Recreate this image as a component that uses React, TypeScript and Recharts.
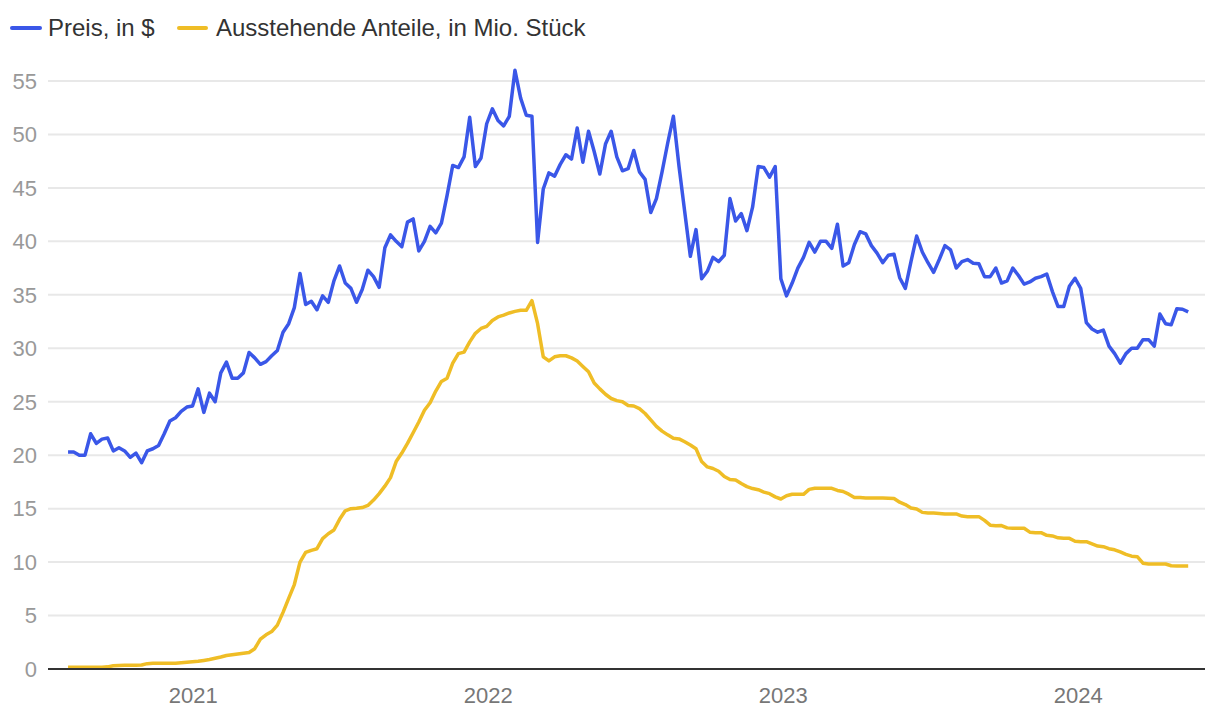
import React from "react";
import { LineChart, Line, XAxis, YAxis, CartesianGrid } from "recharts";

// Weekly observations, first week starting 2020-07-30
const firstWeek = "2020-07-30";

const priceValues = [
  20.3, 20.3, 20.0, 20.0, 22.0, 21.1, 21.5, 21.6, 20.4, 20.7,
  20.4, 19.8, 20.2, 19.3, 20.4, 20.6, 20.9, 22.0, 23.2, 23.5,
  24.1, 24.5, 24.6, 26.2, 24.0, 25.8, 25.0, 27.7, 28.7, 27.2,
  27.2, 27.7, 29.6, 29.1, 28.5, 28.75, 29.3, 29.8, 31.5, 32.3,
  33.8, 37.0, 34.1, 34.4, 33.6, 34.9, 34.3, 36.3, 37.7, 36.1,
  35.6, 34.3, 35.5, 37.3, 36.7, 35.7, 39.4, 40.6, 40.0, 39.5,
  41.8, 42.1, 39.1, 40.0, 41.4, 40.8, 41.7, 44.3, 47.1, 46.9,
  47.9, 51.6, 47.0, 47.8, 51.0, 52.4, 51.3, 50.8, 51.7, 56.0,
  53.4, 51.8, 51.7, 39.9, 44.9, 46.4, 46.1, 47.2, 48.1, 47.7,
  50.6, 47.4, 50.3, 48.4, 46.3, 49.1, 50.3, 47.9, 46.6, 46.8,
  48.5, 46.5, 45.8, 42.7, 44.0, 46.5, 49.2, 51.7, 47.0, 42.8,
  38.6, 41.1, 36.5, 37.2, 38.5, 38.1, 38.7, 44.0, 41.9, 42.6,
  41.0, 43.2, 47.0, 46.9, 46.0, 47.0, 36.5, 34.9, 36.1, 37.5,
  38.5, 39.9, 39.0, 40.0, 40.0, 39.35, 41.6, 37.7, 38.0, 39.7,
  40.9, 40.7, 39.6, 38.9, 38.0, 38.7, 38.8, 36.6, 35.6, 38.1,
  40.5, 39.0, 38.0, 37.1, 38.3, 39.6, 39.2, 37.5, 38.1, 38.3,
  37.95, 37.9, 36.7, 36.7, 37.5, 36.1, 36.3, 37.5, 36.8, 36.0,
  36.2, 36.55, 36.7, 36.95, 35.3, 33.9, 33.9, 35.8, 36.55, 35.6,
  32.4, 31.8, 31.5, 31.7, 30.2, 29.5, 28.6, 29.5, 30.0, 30.0,
  30.8, 30.8, 30.2, 33.2, 32.3, 32.2, 33.7, 33.65, 33.4,
];

const sharesValues = [
  0.16, 0.16, 0.16, 0.16, 0.16, 0.16, 0.16, 0.2, 0.31, 0.33,
  0.34, 0.35, 0.36, 0.37, 0.5, 0.53, 0.53, 0.53, 0.53, 0.53,
  0.58, 0.63, 0.67, 0.72, 0.8, 0.89, 1.0, 1.12, 1.26, 1.33,
  1.4, 1.48, 1.55, 1.9, 2.8, 3.2, 3.5, 4.1, 5.3, 6.6,
  7.9, 10.0, 10.9, 11.1, 11.25, 12.2, 12.65, 13.0, 14.0, 14.8,
  15.0, 15.03, 15.1, 15.3, 15.8, 16.4, 17.1, 17.9, 19.4, 20.2,
  21.1, 22.1, 23.1, 24.2, 24.9, 26.0, 26.9, 27.2, 28.6, 29.5,
  29.64, 30.6, 31.4, 31.85, 32.05, 32.6, 32.93, 33.1, 33.3, 33.45,
  33.55, 33.55, 34.45, 32.3, 29.2, 28.82, 29.2, 29.3, 29.3, 29.1,
  28.8, 28.3, 27.8, 26.75, 26.2, 25.7, 25.3, 25.1, 25.0, 24.65,
  24.6, 24.35, 23.9, 23.3, 22.7, 22.25, 21.9, 21.58, 21.52, 21.25,
  20.95, 20.6, 19.4, 18.9, 18.75, 18.5, 18.0, 17.72, 17.68, 17.35,
  17.06, 16.88, 16.77, 16.55, 16.4, 16.1, 15.9, 16.2, 16.34, 16.34,
  16.34, 16.8, 16.9, 16.9, 16.9, 16.9, 16.7, 16.6, 16.35, 16.05,
  16.03, 16.0, 16.0, 16.0, 16.0, 15.98, 15.95, 15.6, 15.38, 15.05,
  14.97, 14.65, 14.6, 14.58, 14.55, 14.5, 14.5, 14.5, 14.3, 14.25,
  14.25, 14.25, 13.9, 13.45, 13.4, 13.42, 13.2, 13.16, 13.16, 13.16,
  12.8, 12.75, 12.75, 12.5, 12.45, 12.27, 12.22, 12.22, 11.95, 11.91,
  11.91, 11.7, 11.5, 11.44, 11.25, 11.15, 10.95, 10.72, 10.55, 10.51,
  9.9, 9.82, 9.82, 9.82, 9.82, 9.66, 9.64, 9.64, 9.64,
];

const yearTickLabels = ["2021", "2022", "2023", "2024"];
const yTicks = [0, 5, 10, 15, 20, 25, 30, 35, 40, 45, 50, 55];
const seriesNames = ["Preis, in $", "Ausstehende Anteile, in Mio. Stück"];

const BLUE = "#3a57e8";
const YELLOW = "#efbd26";
const FONT = "'Liberation Sans', Arial, Helvetica, sans-serif";

const DAY = 86400000;
const startTs = Date.parse(firstWeek + "T00:00:00Z");
const data = priceValues.map((p, i) => ({
  t: startTs + i * 7 * DAY,
  price: p,
  shares: sharesValues[i],
}));

const yearTicks = yearTickLabels.map((y) => Date.parse(y + "-01-01T00:00:00Z"));
const domainMin = yearTicks[0] - 179.8 * DAY;
const domainMax = domainMin + 1431.6 * DAY;

export default function App() {
  return (
    <div style={{ position: "absolute", left: 0, top: 0, width: 1220, height: 716, background: "#fff", fontFamily: FONT }}>
      <LineChart
        width={1220}
        height={716}
        data={data}
        margin={{ top: 59.6, right: 15, bottom: 0, left: 0 }}
      >
        <CartesianGrid
          vertical={false}
          stroke="#e8e8e8"
          strokeWidth={2}
          horizontalValues={yTicks}
        />
        <XAxis
          dataKey="t"
          type="number"
          domain={[domainMin, domainMax]}
          allowDataOverflow
          ticks={yearTicks}
          interval={0}
          tickFormatter={(v: number) => String(new Date(v).getUTCFullYear())}
          height={47}
          tickLine={false}
          tickSize={6}
          tickMargin={12}
          axisLine={{ stroke: "#333", strokeWidth: 2 }}
          tick={{ fill: "#777", fontSize: 22, fontFamily: FONT }}
        />
        <YAxis
          type="number"
          domain={[0, 57]}
          allowDataOverflow
          ticks={yTicks}
          interval={0}
          width={48}
          axisLine={false}
          tickLine={false}
          tickSize={6}
          tickMargin={5}
          tick={{ fill: "#999", fontSize: 22, fontFamily: FONT }}
        />
        <Line
          type="linear"
          dataKey="shares"
          name={seriesNames[1]}
          stroke={YELLOW}
          strokeWidth={3.5}
          dot={false}
          strokeLinejoin="round"
          isAnimationActive={false}
        />
        <Line
          type="linear"
          dataKey="price"
          name={seriesNames[0]}
          stroke={BLUE}
          strokeWidth={3.5}
          dot={false}
          strokeLinejoin="round"
          isAnimationActive={false}
        />
      </LineChart>
      <svg width={1220} height={50} style={{ position: "absolute", left: 0, top: 0 }}>
        <line x1={12} y1={28} x2={40} y2={28} stroke={BLUE} strokeWidth={4} strokeLinecap="round" />
        <text x={48} y={36} fontSize={24} fill="#333" fontFamily={FONT}>{seriesNames[0]}</text>
        <line x1={179} y1={28} x2={206} y2={28} stroke={YELLOW} strokeWidth={4} strokeLinecap="round" />
        <text x={216} y={36} fontSize={24} fill="#333" fontFamily={FONT}>{seriesNames[1]}</text>
      </svg>
    </div>
  );
}
